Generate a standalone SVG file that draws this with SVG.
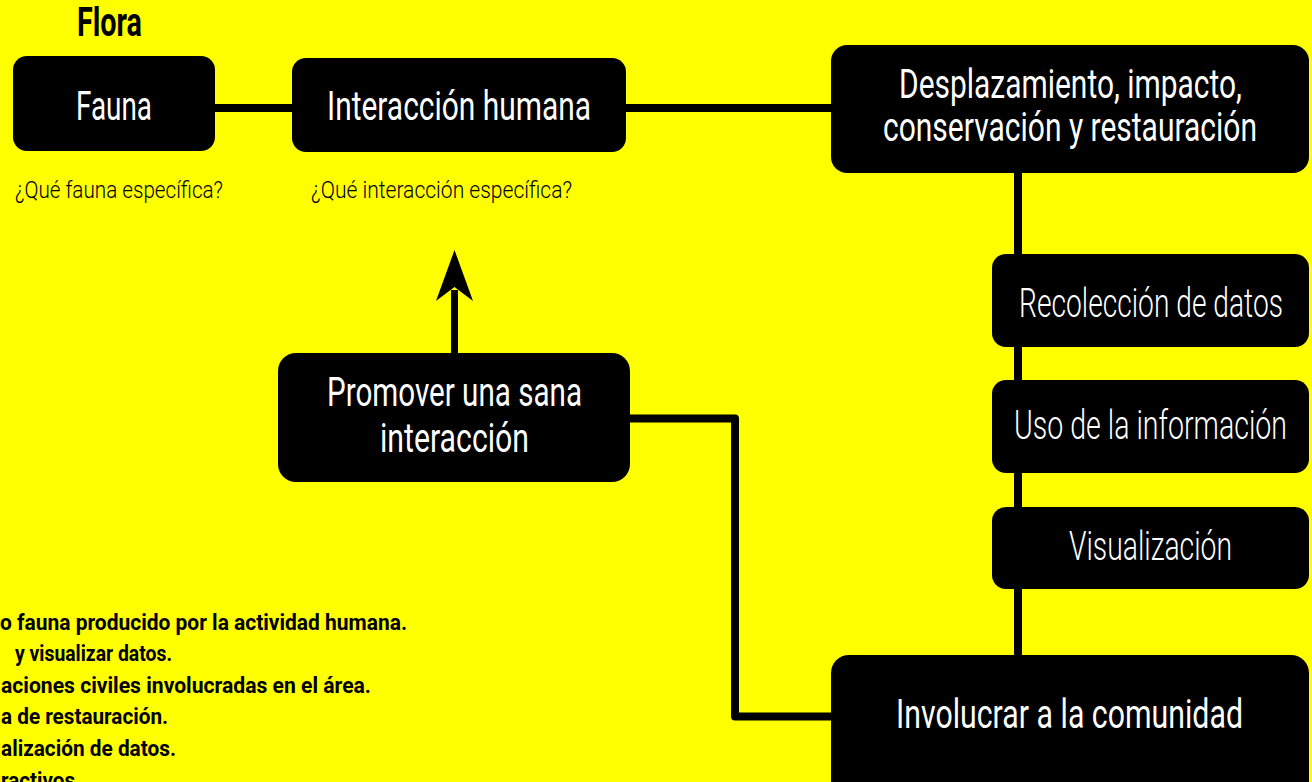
<svg xmlns="http://www.w3.org/2000/svg" width="1312" height="782" viewBox="0 0 1312 782">
<style>
.box{fill:#000}
.lbl{fill:#fff;font-family:Roboto,"Liberation Sans",sans-serif;font-size:40px;font-weight:400;text-anchor:middle}
.thin{font-weight:300}
.q{fill:#000;font-family:Roboto,"Liberation Sans",sans-serif;font-size:24px;font-weight:300}
.note{fill:#000;font-family:Roboto,"Liberation Sans",sans-serif;font-size:22px;font-weight:700}
.title{fill:#000;font-family:Roboto,"Liberation Sans",sans-serif;font-size:40px;font-weight:700;text-anchor:middle}
.conn{fill:none;stroke:#000;stroke-width:8;stroke-linejoin:round}
</style>
<rect x="0" y="0" width="1312" height="782" fill="#ffff00"/>

<g id="connectors">
  <line class="conn" x1="210" y1="108" x2="297" y2="108"/>
  <line class="conn" x1="620" y1="108" x2="836" y2="108"/>
  <line class="conn" x1="1018" y1="168" x2="1018" y2="660"/>
  <path class="conn" d="M625 418.5 H735 V716.5 H836"/>
  <line class="conn" x1="454.5" y1="358" x2="454.5" y2="290" style="stroke-width:7"/>
  <polygon points="454.5,250 473,301 454.5,287 436,301" fill="#000"/>
</g>

<g id="flora">
  <text class="title" x="109.5" y="36" textLength="65" lengthAdjust="spacingAndGlyphs">Flora</text>
</g>

<g id="fauna">
  <rect class="box" x="13" y="56" width="202" height="95" rx="14"/>
  <text class="lbl" x="114" y="120" textLength="76" lengthAdjust="spacingAndGlyphs">Fauna</text>
</g>

<g id="fauna-q">
  <text class="q" x="15" y="198" textLength="208" lengthAdjust="spacingAndGlyphs">¿Qué fauna específica?</text>
</g>

<g id="interaccion">
  <rect class="box" x="292" y="58" width="334" height="94" rx="14"/>
  <text class="lbl" x="459" y="120" textLength="264" lengthAdjust="spacingAndGlyphs">Interacción humana</text>
</g>

<g id="interaccion-q">
  <text class="q" x="311" y="198" textLength="261" lengthAdjust="spacingAndGlyphs">¿Qué interacción específica?</text>
</g>

<g id="desplazamiento">
  <rect class="box" x="831" y="45" width="478" height="128" rx="16"/>
  <text class="lbl" x="1070.5" y="98" textLength="343" lengthAdjust="spacingAndGlyphs">Desplazamiento, impacto,</text>
  <text class="lbl" x="1070" y="141" textLength="374" lengthAdjust="spacingAndGlyphs">conservación y restauración</text>
</g>

<g id="recoleccion">
  <rect class="box" x="992" y="254" width="317" height="93" rx="14"/>
  <text class="lbl thin" x="1151" y="317" textLength="264" lengthAdjust="spacingAndGlyphs">Recolección de datos</text>
</g>

<g id="uso">
  <rect class="box" x="992" y="380" width="317" height="93" rx="14"/>
  <text class="lbl thin" x="1150.5" y="439" textLength="273" lengthAdjust="spacingAndGlyphs">Uso de la información</text>
</g>

<g id="visualizacion">
  <rect class="box" x="992" y="507" width="317" height="82" rx="14"/>
  <text class="lbl thin" x="1150.5" y="560" textLength="163" lengthAdjust="spacingAndGlyphs">Visualización</text>
</g>

<g id="promover">
  <rect class="box" x="278" y="353" width="352" height="129" rx="18"/>
  <text class="lbl" x="454.5" y="406" textLength="255" lengthAdjust="spacingAndGlyphs">Promover una sana</text>
  <text class="lbl" x="454.5" y="452" textLength="149" lengthAdjust="spacingAndGlyphs">interacción</text>
</g>

<g id="involucrar">
  <rect class="box" x="831" y="655" width="478" height="150" rx="18"/>
  <text class="lbl" x="1069.5" y="728" textLength="347" lengthAdjust="spacingAndGlyphs">Involucrar a la comunidad</text>
</g>

<g id="notes">
  <text class="note" x="0" y="630" textLength="407" lengthAdjust="spacingAndGlyphs">o fauna producido por la actividad humana.</text>
  <text class="note" x="15" y="661" textLength="157" lengthAdjust="spacingAndGlyphs">y visualizar datos.</text>
  <text class="note" x="1" y="693" textLength="370" lengthAdjust="spacingAndGlyphs">aciones civiles involucradas en el área.</text>
  <text class="note" x="1" y="724" textLength="167" lengthAdjust="spacingAndGlyphs">a de restauración.</text>
  <text class="note" x="1" y="756" textLength="175" lengthAdjust="spacingAndGlyphs">alización de datos.</text>
  <text class="note" x="1" y="788" textLength="80" lengthAdjust="spacingAndGlyphs">ractivos.</text>
</g>
</svg>
